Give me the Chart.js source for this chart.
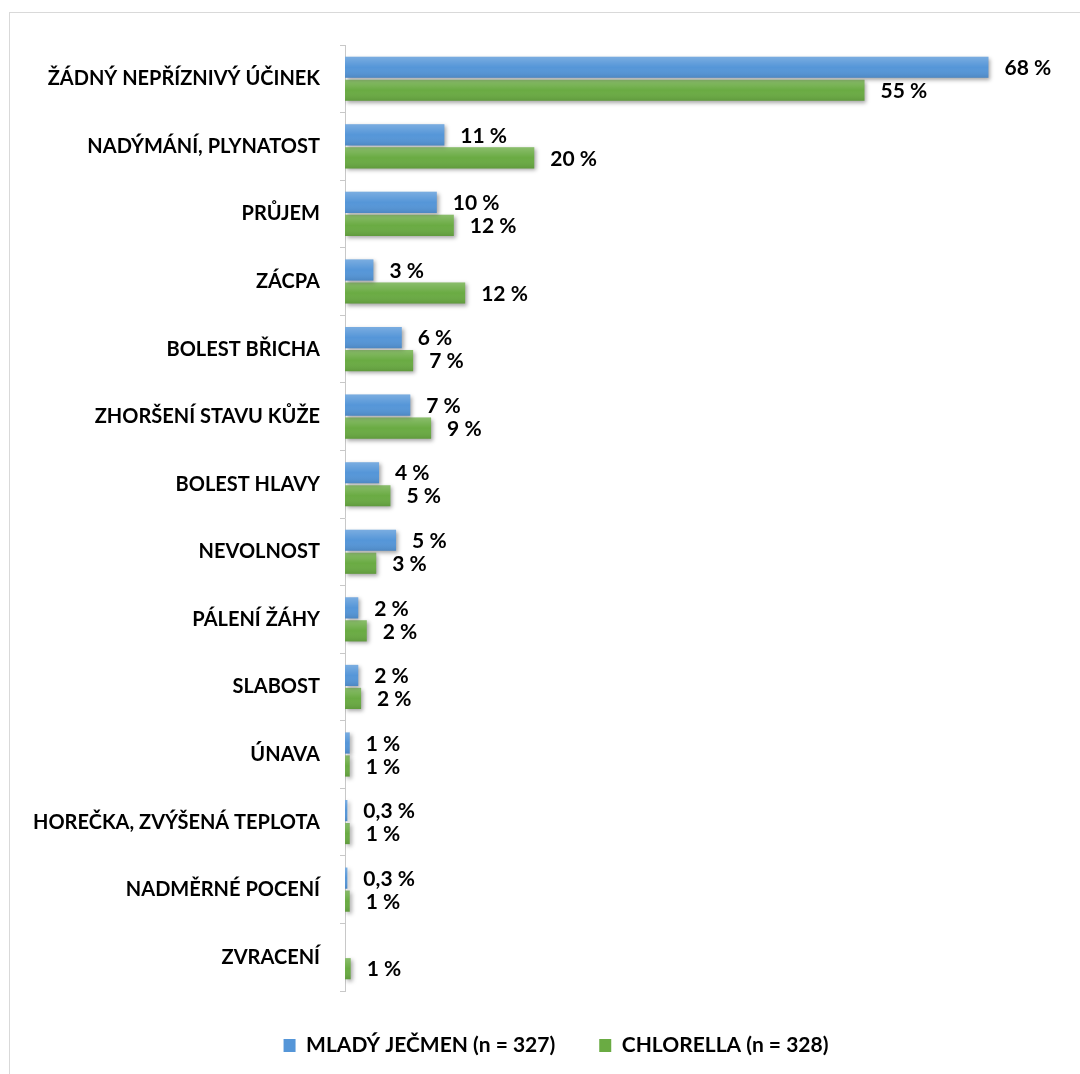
<!DOCTYPE html>
<html>
<head>
<meta charset="utf-8">
<script src="https://cdn.jsdelivr.net/npm/chart.js@4.4.0/dist/chart.umd.min.js"></script>
<style>
  html, body { margin: 0; padding: 0; background: #fff; width: 1080px; height: 1074px; overflow: hidden; }
  #frame { position: absolute; left: 9px; top: 12px; width: 1100px; height: 1080px;
           border-left: 1px solid #d9d9d9; border-top: 1px solid #d9d9d9; background: #fff; }
  #wrap { position: absolute; left: 0; top: 0; width: 1092px; height: 1061px; }
</style>
</head>
<body>
<div id="frame"><div id="wrap"><canvas id="effectsChart"></canvas></div></div>
<script>
// categories (top to bottom)
const categories = [
  "ŽÁDNÝ NEPŘÍZNIVÝ ÚČINEK",
  "NADÝMÁNÍ, PLYNATOST",
  "PRŮJEM",
  "ZÁCPA",
  "BOLEST BŘICHA",
  "ZHORŠENÍ STAVU KŮŽE",
  "BOLEST HLAVY",
  "NEVOLNOST",
  "PÁLENÍ ŽÁHY",
  "SLABOST",
  "ÚNAVA",
  "HOREČKA, ZVÝŠENÁ TEPLOTA",
  "NADMĚRNÉ POCENÍ",
  "ZVRACENÍ"
];

// bar lengths in %
const barleyValues = [68, 10.5, 9.7, 3.0, 6.0, 6.9, 3.6, 5.4, 1.4, 1.4, 0.5, 0.25, 0.25, null];
const chlorellaValues = [54.9, 20.0, 11.5, 12.7, 7.2, 9.1, 4.8, 3.3, 2.3, 1.7, 0.5, 0.5, 0.5, 0.6];

// printed labels next to the bars
const barleyLabels = ["68 %", "11 %", "10 %", "3 %", "6 %", "7 %", "4 %", "5 %", "2 %", "2 %", "1 %", "0,3 %", "0,3 %", null];
const chlorellaLabels = ["55 %", "20 %", "12 %", "12 %", "7 %", "9 %", "5 %", "3 %", "2 %", "2 %", "1 %", "1 %", "1 %", "1 %"];

const seriesNames = ["MLADÝ JEČMEN (n = 327)", "CHLORELLA (n = 328)"];

const FONT = "Lato";

// soft shadow + shading for the bars, then the value labels
const barDecor = {
  id: "barDecor",
  beforeDatasetsDraw(chart) {
    const c = chart.ctx;
    c.save();
    c.shadowColor = "rgba(0,0,0,0.35)";
    c.shadowBlur = 4;
    c.shadowOffsetX = 2;
    c.shadowOffsetY = 2;
  },
  afterDatasetsDraw(chart) {
    const c = chart.ctx;
    c.restore();
    const labelSets = [barleyLabels, chlorellaLabels];
    chart.data.datasets.forEach((ds, di) => {
      const meta = chart.getDatasetMeta(di);
      meta.data.forEach((bar, i) => {
        if (ds.data[i] == null) return;
        const h = bar.height;
        const top = bar.y - h / 2;
        const g = c.createLinearGradient(0, top, 0, top + h);
        g.addColorStop(0, "rgba(255,255,255,0.22)");
        g.addColorStop(0.5, "rgba(255,255,255,0)");
        g.addColorStop(1, "rgba(0,0,0,0.10)");
        c.fillStyle = g;
        c.fillRect(bar.base, top, bar.x - bar.base, h);
      });
    });
    c.save();
    c.fillStyle = "#000";
    c.font = "bold 21px " + FONT;
    c.textBaseline = "middle";
    c.textAlign = "left";
    chart.data.datasets.forEach((ds, di) => {
      const meta = chart.getDatasetMeta(di);
      meta.data.forEach((bar, i) => {
        const txt = labelSets[di][i];
        if (txt == null || ds.data[i] == null) return;
        c.fillText(txt, bar.x + 16, bar.y + 1);
      });
    });
    c.restore();
  }
};

const ctx = document.getElementById("effectsChart");
const myChart = new Chart(ctx, {
  type: "bar",
  data: {
    labels: categories,
    datasets: [
      {
        label: seriesNames[0],
        data: barleyValues,
        backgroundColor: "#5596d8",
        categoryPercentage: 0.68,
        barPercentage: 0.92
      },
      {
        label: seriesNames[1],
        data: chlorellaValues,
        backgroundColor: "#6aab43",
        categoryPercentage: 0.68,
        barPercentage: 0.92
      }
    ]
  },
  options: {
    indexAxis: "y",
    responsive: true,
    maintainAspectRatio: false,
    animation: false,
    layout: { padding: { top: 28, right: 0, bottom: 8, left: 0 } },
    scales: {
      x: {
        type: "linear",
        min: 0,
        max: 80,
        display: false
      },
      y: {
        afterFit: (scale) => { scale.width = 335; },
        border: { color: "#c8c8c8", width: 1 },
        grid: {
          offset: true,
          drawOnChartArea: false,
          drawTicks: true,
          tickLength: 5,
          color: "#c8c8c8"
        },
        ticks: {
          padding: 20,
          color: "#000",
          font: { family: FONT, size: 20, weight: "bold" }
        }
      }
    },
    plugins: {
      tooltip: { enabled: false },
      legend: {
        position: "bottom",
        labels: {
          boxWidth: 12,
          boxHeight: 13,
          padding: 44,
          color: "#000",
          font: { family: FONT, size: 21, weight: "bold" }
        }
      }
    }
  },
  plugins: [barDecor]
});
</script>
</body>
</html>
